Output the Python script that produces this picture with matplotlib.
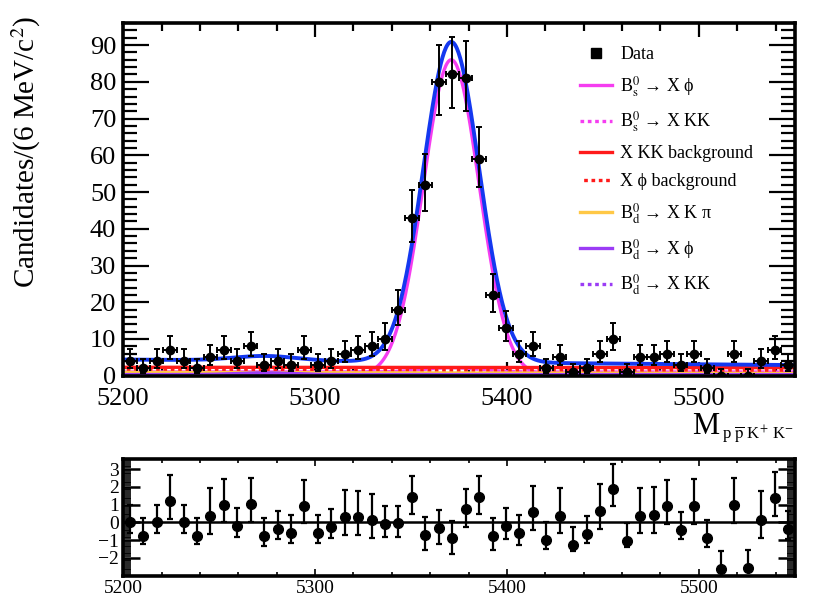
import numpy as np
import matplotlib
import matplotlib.pyplot as plt
from matplotlib.ticker import MultipleLocator, FixedLocator
matplotlib.use('Agg')

plt.rcParams['font.family'] = ['Liberation Serif', 'DejaVu Serif']
plt.rcParams['mathtext.fontset'] = 'stix'

# 50 bins of 7 MeV between 5200 and 5550
mass_lo = 5200
mass_hi = 5550
bin_width = 7
counts = [4, 2, 4, 7, 4, 2, 5, 7, 4, 8,
          3, 4, 3, 7, 3, 4, 6, 7, 8, 10,
          18, 43, 52, 80, 82, 81, 59, 22, 13, 6,
          8, 2, 5, 1, 2, 6, 10, 1, 5, 5,
          6, 3, 6, 2, 0, 6, 0, 4, 7, 3]
pulls = [0.0, -0.75, 0.0, 1.2, 0.0, -0.75, 0.35, 1.0, -0.2, 1.05,
         -0.75, -0.35, -0.6, 0.95, -0.6, -0.25, 0.3, 0.3, 0.15, -0.1,
         -0.05, 1.45, -0.7, -0.3, -0.9, 0.75, 1.45, -0.75, -0.2, -0.6,
         0.6, -1.0, 0.38, -1.25, -0.65, 0.65, 1.9, -1.05, 0.38, 0.42,
         0.9, -0.4, 0.92, -0.88, -2.6, 0.98, -2.55, 0.12, 1.35, -0.35]

# fit curves (events per bin)
bs_mass = 5371.0
bd_mass = 5274.0
width = 14.5
bs_phi_peak = 86.0
bs_kk_peak = 1.2
bs_kk_flat = [1.0, 1.0]     # level at 5200 and 5550
xkk_bkg = [2.3, 2.2]
xphi_bkg = [1.5, 1.4]
bd_kpi = [0.9, 0.6]
bd_phi_peak = 0.5
bd_phi_flat = [0.3, 0.3]
bd_kk_peak = 0.3
bd_kk_flat = [0.2, 0.2]
total_bkg = [4.4, 2.9]      # smooth part of the full fit
total_bd_bump = 1.3


def gauss(x, mu, s):
    return np.exp(-0.5 * ((x - mu) / s) ** 2)


def line(x, ends):
    return ends[0] + (ends[1] - ends[0]) * (x - mass_lo) / (mass_hi - mass_lo)


def poisson_err(n):
    n = np.asarray(n, dtype=float)
    m = np.maximum(n, 1)
    lo = np.where(n > 0, n - n * (1 - 1 / (9 * m) - 1 / (3 * np.sqrt(m))) ** 3, 0.0)
    hi = (n + 1) * (1 - 1 / (9 * (n + 1)) + 1 / (3 * np.sqrt(n + 1))) ** 3 - n
    return lo, hi


centers = mass_lo + bin_width * (np.arange(len(counts)) + 0.5)
x = np.linspace(mass_lo, mass_hi, 800)

c_bs_phi = bs_phi_peak * gauss(x, bs_mass, width)
c_bs_kk = line(x, bs_kk_flat) + bs_kk_peak * gauss(x, bs_mass, width)
c_xkk = line(x, xkk_bkg)
c_xphi = line(x, xphi_bkg)
c_kpi = line(x, bd_kpi)
c_bd_phi = line(x, bd_phi_flat) + bd_phi_peak * gauss(x, bd_mass, width)
c_bd_kk = line(x, bd_kk_flat) + bd_kk_peak * gauss(x, bd_mass, width)
total = (c_bs_phi + bs_kk_peak * gauss(x, bs_mass, width) + line(x, total_bkg)
         + total_bd_bump * gauss(x, bd_mass, width + 2))

fig = plt.figure(figsize=(8.21, 6.06), dpi=100)
ax = fig.add_axes([0.150, 0.380, 0.818, 0.582])
axp = fig.add_axes([0.150, 0.050, 0.818, 0.192])

lw = 2.4
dot = (0, (1.1, 1.1))
ax.plot(x, c_bs_phi, color='#f53df0', lw=lw, label='B$_{\\rm s}^{0}$ → X ϕ')
ax.plot(x, c_bs_kk, color='#f53df0', lw=lw, ls=dot, label='B$_{\\rm s}^{0}$ → X KK')
ax.plot(x, c_xkk, color='#ff1a1a', lw=lw, label='X KK background')
ax.plot(x, c_xphi, color='#ff1a1a', lw=lw, ls=(1.1, (1.1, 1.1)), label='X ϕ background')
ax.plot(x, c_kpi, color='#ffc846', lw=lw, label='B$_{\\rm d}^{0}$ → X K π')
ax.plot(x, c_bd_phi, color='#9b3cf5', lw=lw, label='B$_{\\rm d}^{0}$ → X ϕ')
ax.plot(x, c_bd_kk, color='#9b3cf5', lw=lw, ls=dot, label='B$_{\\rm d}^{0}$ → X KK')
ax.plot(x, total, color='#1438f0', lw=lw + 0.4)

elo, ehi = poisson_err(counts)
ax.errorbar(centers, counts, yerr=[elo, ehi], xerr=bin_width / 2, fmt='o', color='black',
            ms=6, capsize=2, elinewidth=1.4, capthick=1.4, zorder=5)
ax.plot([], [], 's', color='black', ms=7, label='Data')

handles, labels = ax.get_legend_handles_labels()
order = [7, 0, 1, 2, 3, 4, 5, 6]
ax.legend([handles[i] for i in order], [labels[i] for i in order], loc='upper left',
          bbox_to_anchor=(0.67, 0.955), frameon=False, fontsize=13, handlelength=1.75,
          handletextpad=0.45, labelspacing=0.6, borderaxespad=0.0)

ax.set_xlim(mass_lo, mass_hi)
ax.set_ylim(0, 96)
ax.xaxis.set_major_locator(MultipleLocator(100))
ax.xaxis.set_minor_locator(MultipleLocator(20))
ax.yaxis.set_major_locator(MultipleLocator(10))
ax.yaxis.set_minor_locator(MultipleLocator(2))
ax.tick_params(which='both', direction='in', top=True, right=True, width=1.6, labelsize=19)
ax.tick_params(axis='x', pad=9)
ax.tick_params(axis='y', pad=5)
ax.tick_params(axis='y', which='major', length=19)
ax.tick_params(axis='y', which='minor', length=10)
ax.tick_params(axis='x', which='major', length=10)
ax.tick_params(axis='x', which='minor', length=6)
fig.text(0.032, 0.975, 'Candidates/(6 MeV/c$^{2}$)', rotation=90, ha='center', va='top', fontsize=21)
fig.text(692 / 821, 1 - 434 / 606, 'M', ha='left', va='baseline', fontsize=22)
fig.text(722 / 821, 1 - 439 / 606, r'p $\overline{\rm p}$ K$^{+}$ K$^{-}$', ha='left',
         va='baseline', fontsize=12)
for s in ax.spines.values():
    s.set_linewidth(2.6)

# pull plot
plo = np.where(np.array(pulls) > 0, 1.0, elo / ehi)
phi = np.where(np.array(pulls) > 0, ehi / np.maximum(elo, 1e-9), 1.0)
axp.axhline(0, color='black', lw=1.8)
axp.errorbar(centers, pulls, yerr=[plo, phi], fmt='o', color='black', ms=7,
             capsize=2, elinewidth=1.6, capthick=1.6, zorder=5)
axp.set_xlim(mass_lo, mass_hi)
axp.set_ylim(-3.0, 3.55)
axp.xaxis.set_major_locator(MultipleLocator(100))
axp.xaxis.set_minor_locator(MultipleLocator(20))
axp.yaxis.set_major_locator(FixedLocator([-2, -1, 0, 1, 2, 3]))
axp.yaxis.set_minor_locator(MultipleLocator(0.1))
axp.tick_params(which='both', direction='in', top=True, right=True, width=1.2, labelsize=14, pad=3)
axp.tick_params(axis='y', which='major', length=12, width=1.8)
axp.tick_params(axis='y', which='minor', length=6)
axp.tick_params(axis='x', which='major', length=5)
axp.tick_params(axis='x', which='minor', length=3)
for s in axp.spines.values():
    s.set_linewidth(2.6)

plt.savefig('out.png', dpi=100)
plt.close()
